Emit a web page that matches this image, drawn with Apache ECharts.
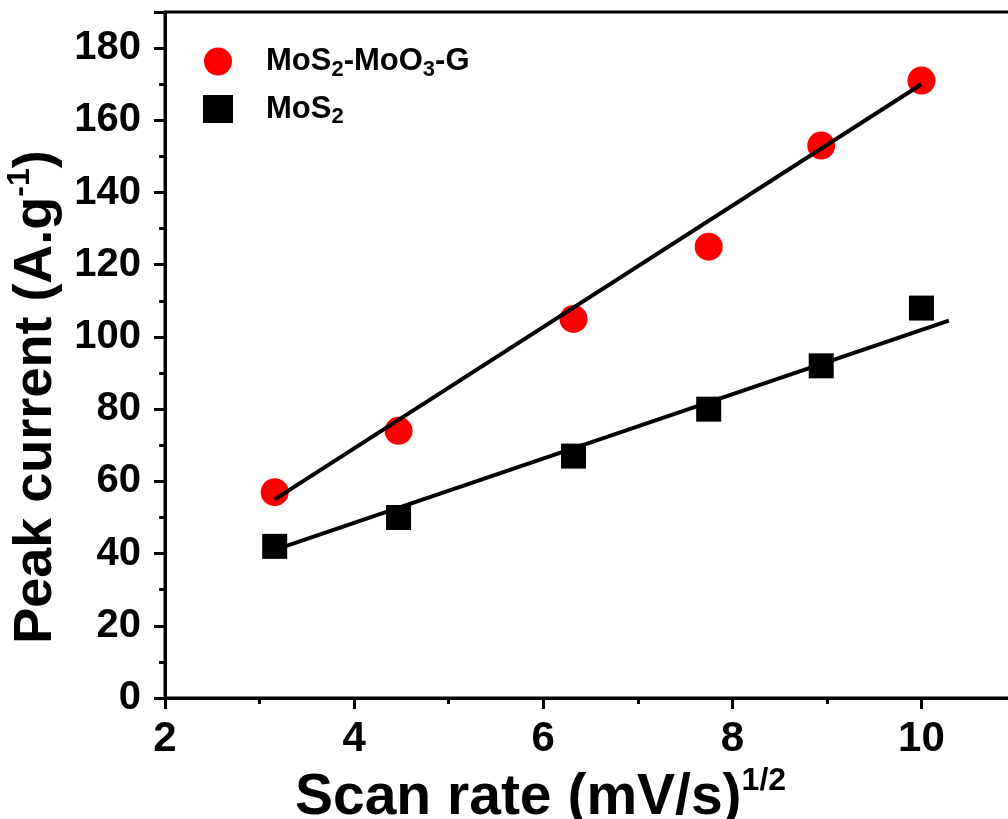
<!DOCTYPE html>
<html>
<head>
<meta charset="utf-8">
<script src="https://cdn.jsdelivr.net/npm/echarts@6/dist/echarts.min.js"></script>
<style>
  html, body { margin: 0; padding: 0; background: #fff; }
  #chart { width: 1008px; height: 819px; }
</style>
</head>
<body>
<div id="chart"></div>
<script>
// sqrt of scan rate, (mV/s)^1/2
const scanRate = [3.16, 4.47, 6.32, 7.75, 8.94, 10.0];
const compositeCurrent = [57, 74, 105, 125, 153, 171];   // MoS2-MoO3-G
const mos2Current = [42, 50, 67, 80, 92, 108];           // MoS2

// linear fit lines, endpoints
const compositeFitX = [3.16, 10.0];
const compositeFitY = [55, 170];
const mos2FitX = [3.16, 10.29];
const mos2FitY = [41, 104.5];

const pairs = (xs, ys) => xs.map((x, i) => [x, ys[i]]);

const font = 'Liberation Sans, Arial, sans-serif';
const chart = echarts.init(document.getElementById('chart'));

chart.setOption({
  backgroundColor: '#fff',
  animation: false,
  grid: {
    left: 165, top: 12, bottom: 121, right: -8,
    outerBoundsMode: 'none',
    containLabel: false,
    show: true, borderColor: '#000', borderWidth: 3, backgroundColor: 'transparent'
  },
  legend: {
    left: 198, top: 41,
    orient: 'vertical',
    itemGap: 13,
    itemWidth: 30, itemHeight: 28,
    data: [
      { name: 'MoS2-MoO3-G', icon: 'circle' },
      { name: 'MoS2', icon: 'rect' }
    ],
    formatter: name => name === 'MoS2'
      ? 'MoS{sub|2}'
      : 'MoS{sub|2}-MoO{sub|3}-G',
    textStyle: {
      fontFamily: font, fontWeight: 'bold', fontSize: 31, color: '#000', padding: [0, 0, 0, 28],
      rich: {
        sub: { fontFamily: font, fontWeight: 'bold', fontSize: 22, padding: [16, 0, 0, 0], color: '#000' }
      }
    }
  },
  xAxis: {
    type: 'value',
    min: 2, max: 11, interval: 2,
    name: 'Scan rate (mV/s){sup|1/2}',
    nameLocation: 'middle',
    nameGap: 62,
    nameTextStyle: {
      fontFamily: font, fontWeight: 'bold', fontSize: 57, color: '#000',
      padding: [0, 100, 0, 0],
      rich: {
        sup: { fontFamily: font, fontWeight: 'bold', fontSize: 32, padding: [0, 0, 34, 0], color: '#000' }
      }
    },
    axisLine: { lineStyle: { color: '#000', width: 3 } },
    axisTick: { length: 11, lineStyle: { color: '#000', width: 3 } },
    minorTick: { show: true, splitNumber: 2, length: 6, lineStyle: { color: '#000', width: 3 } },
    splitLine: { show: false },
    axisLabel: {
      fontFamily: font, fontWeight: 'bold', fontSize: 42, color: '#000', margin: 20,
      formatter: v => (v > 10 ? '' : v)
    }
  },
  yAxis: {
    type: 'value',
    min: 0, max: 190, interval: 20,
    name: 'Peak current (A.g{sup|-1})',
    nameLocation: 'middle',
    nameGap: 89,
    nameTextStyle: {
      fontFamily: font, fontWeight: 'bold', fontSize: 54, color: '#000',
      padding: [0, 84, 0, 0],
      rich: {
        sup: { fontFamily: font, fontWeight: 'bold', fontSize: 32, padding: [0, 0, 32, 0], color: '#000' }
      }
    },
    axisLine: { show: true, lineStyle: { color: '#000', width: 3 } },
    axisTick: { show: true, length: 11, lineStyle: { color: '#000', width: 3 } },
    minorTick: { show: true, splitNumber: 2, length: 6, lineStyle: { color: '#000', width: 3 } },
    splitLine: { show: false },
    axisLabel: {
      fontFamily: font, fontWeight: 'bold', fontSize: 40, color: '#000', margin: 24,
      formatter: v => (v > 180 ? '' : v)
    }
  },
  series: [
    {
      name: 'fit1', type: 'line', data: pairs(compositeFitX, compositeFitY),
      symbol: 'none', lineStyle: { color: '#000', width: 4 }, z: 3
    },
    {
      name: 'fit2', type: 'line', data: pairs(mos2FitX, mos2FitY),
      symbol: 'none', lineStyle: { color: '#000', width: 4 }, z: 3
    },
    {
      name: 'MoS2-MoO3-G', type: 'scatter', data: pairs(scanRate, compositeCurrent),
      symbol: 'circle', symbolSize: 28, itemStyle: { color: '#ff0000', opacity: 1 }, z: 2
    },
    {
      name: 'MoS2', type: 'scatter', data: pairs(scanRate, mos2Current),
      symbol: 'rect', symbolSize: 25, itemStyle: { color: '#000', opacity: 1 }, z: 2
    }
  ]
});
</script>
</body>
</html>
